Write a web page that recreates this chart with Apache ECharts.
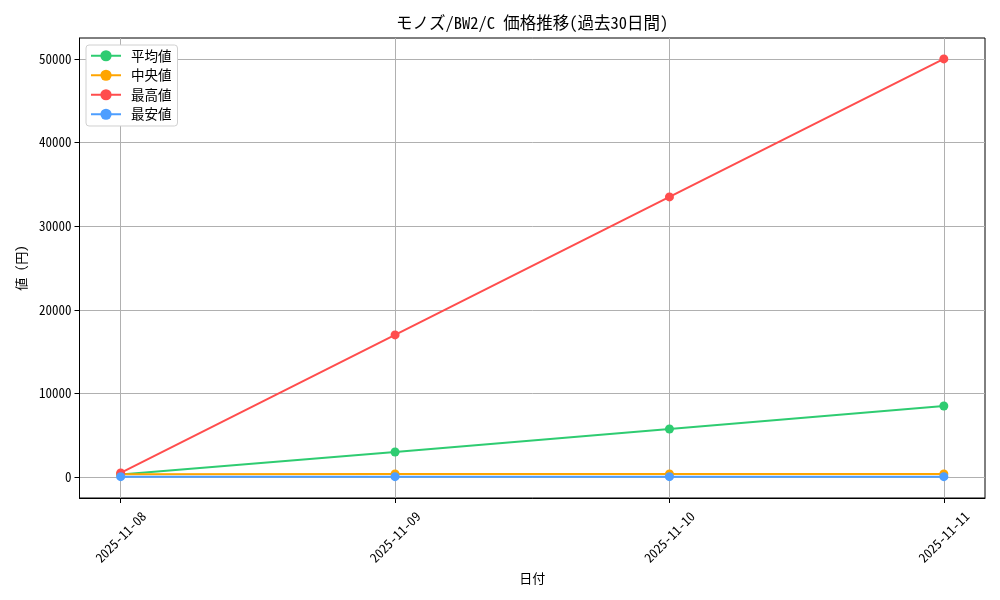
<!DOCTYPE html>
<html><head><meta charset="utf-8">
<script src="https://cdn.jsdelivr.net/npm/echarts@6/dist/echarts.min.js"></script>
<style>html,body{margin:0;padding:0;background:#fff}#c{width:1000px;height:600px}</style>
</head><body><div id="c"></div>
<script>
const categories = ['2025-11-08','2025-11-09','2025-11-10','2025-11-11'];
const avgValues = [300, 3000, 5750, 8500];
const medianValues = [350, 380, 380, 380];
const maxValues = [500, 17000, 33500, 50000];
const minValues = [50, 50, 50, 50];
const yTicks = [0, 10000, 20000, 30000, 40000, 50000];
const seriesNames = ['平均値','中央値','最高値','最安値'];
const colors = ['#2ecc71','#ffa500','#ff4d4d','#4d9eff'];

const font = "'Noto Sans Mono CJK JP', 'Noto Sans CJK JP', 'DejaVu Sans', sans-serif";
const chart = echarts.init(document.getElementById('c'), null, {renderer:'canvas'});
const toPts = arr => arr.map((v,i)=>[i,v]);
const allData = [avgValues, medianValues, maxValues, minValues];
chart.setOption({
  animation:false,
  color: colors,
  textStyle:{fontFamily:font},
  title:{text:'モノズ/BW2/C 価格推移(過去30日間)', left:527, top:9, textAlign:'center',
    textStyle:{fontFamily:font, fontSize:16.5, fontWeight:'normal', color:'#000'}},
  legend:{orient:'vertical', left:86, top:45, itemGap:6, itemWidth:30, itemHeight:14,
    padding:[4,6,5,4], backgroundColor:'#fff', borderColor:'#d0d0d0', borderWidth:1, borderRadius:3,
    textStyle:{fontFamily:font, fontSize:13.5, color:'#000', padding:[0,0,0,5]},
    data: seriesNames},
  grid:{left:79.5, right:15, top:38, bottom:102, show:true, borderColor:'#000', borderWidth:1, backgroundColor:'transparent'},
  xAxis:{type:'value', min:-0.15, max:3.15,
    name:'日付', nameLocation:'middle', nameGap:73, nameTextStyle:{fontFamily:font, fontSize:13, color:'#000'},
    axisLine:{show:true, onZero:false, lineStyle:{color:'#000'}},
    axisTick:{show:true, inside:false, length:5, customValues:[0,1,2,3], lineStyle:{color:'#000'}},
    axisLabel:{rotate:45, align:'center', verticalAlign:'middle', fontFamily:font, fontSize:13, color:'#000', margin:39,
      customValues:[0,1,2,3], formatter: v => categories[Math.round(v)] ?? ''},
    splitLine:{show:true, lineStyle:{color:'#b0b0b0', width:1}}},
  yAxis:{type:'value', min:-2500, max:52500,
    name:'値 (円)', nameLocation:'middle', nameGap:52, nameRotate:90,
    nameTextStyle:{fontFamily:font, fontSize:13, color:'#000'},
    axisLine:{show:true, onZero:false, lineStyle:{color:'#000'}},
    axisTick:{show:true, inside:false, length:5, customValues:yTicks, lineStyle:{color:'#000'}},
    axisLabel:{fontFamily:font, fontSize:13, color:'#000', margin:8, customValues:yTicks,
      formatter: v => String(v)},
    splitLine:{show:true, lineStyle:{color:'#b0b0b0', width:1}}},
  series: seriesNames.map((n,k)=>({
    name:n, type:'line', data:toPts(allData[k]), symbol:'circle', symbolSize:9,
    lineStyle:{width:2, color:colors[k]}, itemStyle:{color:colors[k]}, z:2+k
  }))
});
</script></body></html>
